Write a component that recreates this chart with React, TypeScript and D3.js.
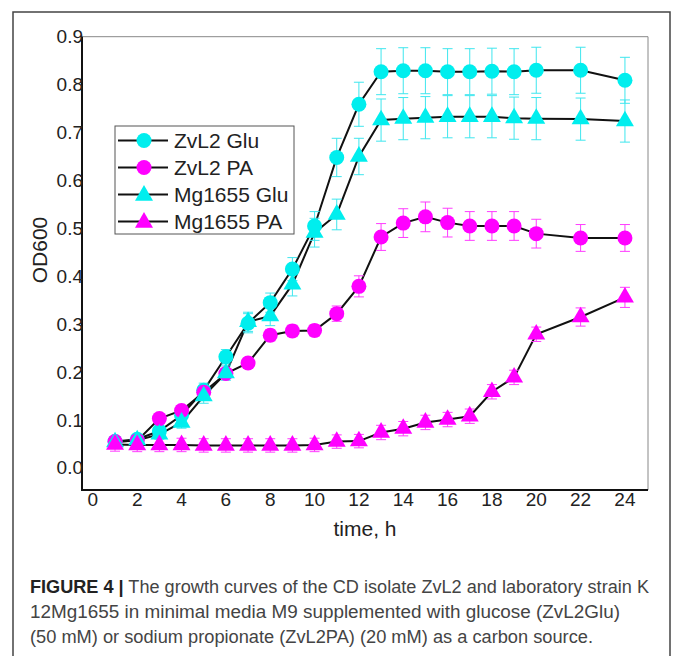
import React from "react";
import * as d3 from "d3";

const times = [1, 2, 3, 4, 5, 6, 7, 8, 9, 10, 11, 12, 13, 14, 15, 16, 17, 18, 19, 20, 22, 24];

const zvl2Glu = [0.055, 0.06, 0.077, 0.11, 0.162, 0.232, 0.302, 0.345, 0.415, 0.505, 0.648, 0.759, 0.827, 0.829, 0.829, 0.827, 0.827, 0.828, 0.827, 0.83, 0.83, 0.809];
const zvl2GluErr = [0.008, 0.008, 0.01, 0.012, 0.015, 0.015, 0.02, 0.02, 0.024, 0.03, 0.04, 0.046, 0.048, 0.048, 0.048, 0.048, 0.048, 0.048, 0.048, 0.048, 0.048, 0.048];

const zvl2PA = [0.055, 0.057, 0.103, 0.12, 0.158, 0.197, 0.219, 0.277, 0.286, 0.287, 0.322, 0.379, 0.482, 0.511, 0.524, 0.512, 0.505, 0.505, 0.505, 0.489, 0.48, 0.48];
const zvl2PAErr = [0.006, 0.006, 0.008, 0.01, 0.01, 0.01, 0.01, 0.012, 0.012, 0.012, 0.016, 0.022, 0.028, 0.03, 0.031, 0.03, 0.03, 0.03, 0.03, 0.03, 0.028, 0.028];

const mg1655Glu = [0.054, 0.058, 0.07, 0.095, 0.15, 0.198, 0.305, 0.317, 0.383, 0.491, 0.529, 0.65, 0.726, 0.729, 0.731, 0.733, 0.733, 0.733, 0.73, 0.729, 0.728, 0.724];
const mg1655GluErr = [0.008, 0.008, 0.01, 0.012, 0.015, 0.015, 0.02, 0.02, 0.024, 0.03, 0.032, 0.038, 0.044, 0.044, 0.044, 0.044, 0.044, 0.044, 0.044, 0.044, 0.044, 0.044];

const mg1655PA = [0.049, 0.048, 0.048, 0.048, 0.047, 0.047, 0.047, 0.047, 0.047, 0.048, 0.055, 0.056, 0.074, 0.082, 0.095, 0.101, 0.108, 0.159, 0.189, 0.279, 0.315, 0.356];
const mg1655PAErr = [0.014, 0.014, 0.014, 0.014, 0.014, 0.014, 0.014, 0.014, 0.014, 0.014, 0.014, 0.014, 0.015, 0.015, 0.015, 0.015, 0.015, 0.015, 0.015, 0.015, 0.019, 0.021];

const seriesNames = ["ZvL2 Glu", "ZvL2 PA", "Mg1655 Glu", "Mg1655 PA"];
const yTicks = [0.0, 0.1, 0.2, 0.3, 0.4, 0.5, 0.6, 0.7, 0.8, 0.9];
const xTicks = [0, 2, 4, 6, 8, 10, 12, 14, 16, 18, 20, 22, 24];

const captionBold = "FIGURE 4 |";
const captionLine1 = " The growth curves of the CD isolate ZvL2 and laboratory strain K";
const captionLine2 = "12Mg1655 in minimal media M9 supplemented with glucose (ZvL2Glu)";
const captionLine3 = "(50 mM) or sodium propionate (ZvL2PA) (20 mM) as a carbon source.";

const CYAN = "#00eeee";
const CYAN_BAR = "#3ee6ee";
const MAGENTA = "#ff00ff";
const MAGENTA_BAR = "#ff3cff";

const series = [
  { name: seriesNames[0], values: zvl2Glu, err: zvl2GluErr, color: CYAN, bar: CYAN_BAR, shape: "circle" },
  { name: seriesNames[1], values: zvl2PA, err: zvl2PAErr, color: MAGENTA, bar: MAGENTA_BAR, shape: "circle" },
  { name: seriesNames[2], values: mg1655Glu, err: mg1655GluErr, color: CYAN, bar: CYAN_BAR, shape: "triangle" },
  { name: seriesNames[3], values: mg1655PA, err: mg1655PAErr, color: MAGENTA, bar: MAGENTA_BAR, shape: "triangle" },
];

const FONT = "'Liberation Sans', Arial, sans-serif";

export default function App() {
  const left = 82, right = 648, top = 36.7, bottom = 490;
  const x = d3.scaleLinear().domain([-0.49, 25.04]).range([left, right]);
  const y = d3.scaleLinear().domain([-0.046, 0.9]).range([bottom, top]);
  const line = d3.line<number>().x((_, i) => x(times[i])).y((d) => y(d));
  const tri = d3.symbol().type(d3.symbolTriangle).size(140)();
  const legTri = d3.symbol().type(d3.symbolTriangle).size(140)();

  const marker = (shape: string, cx: number, cy: number, color: string, key: string) =>
    shape === "circle" ? (
      <circle key={key} cx={cx} cy={cy} r={7.5} fill={color} />
    ) : (
      <path key={key} d={tri as string} transform={`translate(${cx},${cy})`} fill={color} />
    );

  return (
    <svg width={673} height={656} style={{ position: "absolute", left: 0, top: 0, background: "#fff" }}>
      <rect x={13} y={12} width={657} height={660} fill="none" stroke="#444" strokeWidth={1.5} />

      {/* plot frame */}
      <line x1={left} x2={right} y1={top} y2={top} stroke="#888" strokeWidth={1} />
      <line x1={right} x2={right} y1={top} y2={bottom} stroke="#888" strokeWidth={1} />

      {/* lines */}
      {series.map((s) => (
        <path key={s.name + "l"} d={line(s.values) as string} fill="none" stroke="#111" strokeWidth={2} />
      ))}

      {/* error bars */}
      {series.map((s) =>
        s.values.map((v, i) => {
          const cx = x(times[i]);
          const y1 = y(v + s.err[i]);
          const y2 = y(v - s.err[i]);
          return (
            <g key={s.name + "e" + i} stroke={s.bar} strokeWidth={1}>
              <line x1={cx} x2={cx} y1={y1} y2={y2} />
              <line x1={cx - 5} x2={cx + 5} y1={y1} y2={y1} />
              <line x1={cx - 5} x2={cx + 5} y1={y2} y2={y2} />
            </g>
          );
        })
      )}

      {/* markers */}
      {series.map((s) => s.values.map((v, i) => marker(s.shape, x(times[i]), y(v), s.color, s.name + "m" + i)))}

      {/* axes */}
      <line x1={left} x2={left} y1={top} y2={bottom + 1} stroke="#111" strokeWidth={2} />
      <line x1={left - 1} x2={right} y1={bottom} y2={bottom} stroke="#111" strokeWidth={2} />

      {yTicks.map((t) => (
        <text key={"yt" + t} x={83} y={y(t)} textAnchor="end" dominantBaseline="central" fontFamily={FONT} fontSize={19} fill="#222">
          {t.toFixed(1)}
        </text>
      ))}
      {xTicks.map((t) => (
        <text key={"xt" + t} x={x(t)} y={499} textAnchor="middle" dominantBaseline="central" fontFamily={FONT} fontSize={19} fill="#222">
          {t}
        </text>
      ))}

      <text transform="translate(39,250) rotate(-90)" textAnchor="middle" dominantBaseline="central" fontFamily={FONT} fontSize={21} fill="#222">
        OD600
      </text>
      <text x={365} y={528} textAnchor="middle" dominantBaseline="central" fontFamily={FONT} fontSize={21} fill="#222">
        time, h
      </text>

      {/* legend */}
      <rect x={115} y={126} width={179} height={108} fill="#fff" stroke="#555" strokeWidth={1} />
      {series.map((s, i) => {
        const ly = 140.5 + i * 27;
        return (
          <g key={s.name + "leg"}>
            <line x1={118} x2={168} y1={ly} y2={ly} stroke="#111" strokeWidth={2} />
            {s.shape === "circle" ? (
              <circle cx={144} cy={ly} r={7.5} fill={s.color} />
            ) : (
              <path d={legTri as string} transform={`translate(144,${ly + 1})`} fill={s.color} />
            )}
            <text x={174} y={ly} dominantBaseline="central" fontFamily={FONT} fontSize={21} fill="#222">
              {s.name}
            </text>
          </g>
        );
      })}

      {/* caption */}
      <text x={30} y={593} fontFamily={FONT} fontSize={17.5} fill="#444" textLength={619} lengthAdjust="spacingAndGlyphs">
        <tspan fontWeight="bold" fill="#222">{captionBold}</tspan>
        <tspan>{captionLine1}</tspan>
      </text>
      <text x={30} y={618} fontFamily={FONT} fontSize={17.5} fill="#444" textLength={590} lengthAdjust="spacingAndGlyphs">
        {captionLine2}
      </text>
      <text x={30} y={643} fontFamily={FONT} fontSize={17.5} fill="#444" textLength={563} lengthAdjust="spacingAndGlyphs">
        {captionLine3}
      </text>
    </svg>
  );
}
